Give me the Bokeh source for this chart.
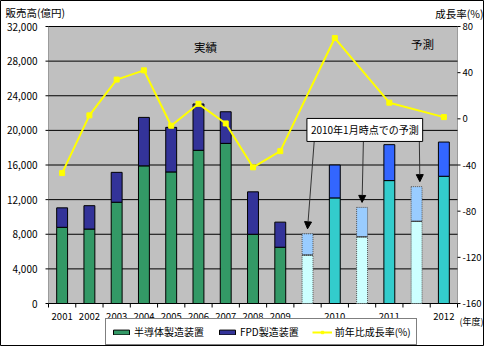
from bokeh.plotting import figure
from bokeh.models import (ColumnDataSource, Range1d, Legend, LegendItem, Label, Arrow,
                          NormalHead, BoxAnnotation)
from bokeh.core.properties import value
from bokeh.embed import file_html
from bokeh.resources import INLINE

# ---------------- data ----------------
slot_labels = ["2001", "2002", "2003", "2004", "2005", "2006", "2007", "2008", "2009",
               "", "2010", "", "2011", "", "2012"]
period = ["実績"] * 9 + ["予測"] * 6
is_forecast = [False] * 9 + [True, False, True, False, True, False]   # 2010年1月時点での予測
semi = [8800, 8600, 11700, 15900, 15200, 17700, 18500, 8000, 6500,
        5600, 12200, 7700, 14200, 9500, 14700]
fpd = [2250, 2700, 3450, 5600, 5150, 5350, 3650, 4900, 2900,
       2450, 3800, 3400, 4150, 4000, 3950]
growth_years = ["2001", "2002", "2003", "2004", "2005", "2006", "2007", "2008", "2009",
                "2010", "2011", "2012"]
growth = [-47, 3, 34, 42, -6, 13, -4, -42, -28, 70, 14, 1.5]
sales_ticks = [0, 4000, 8000, 12000, 16000, 20000, 24000, 28000, 32000]
rate_ticks = [-160, -120, -80, -40, 0, 40, 80]

FONT = "Noto Sans CJK JP"

# ---------------- layout (pixels inside the 484x346 canvas) ----------------
CW, CH = 484, 346
L, R, T, B = 48, 457, 26, 303          # plot area edges
n = len(slot_labels)
sw = (R - L) / n                        # px per slot
ymin, ymax = sales_ticks[0], sales_ticks[-1]
rmin, rmax = rate_ticks[0], rate_ticks[-1]
ypp = (ymax - ymin) / (B - T)           # sales units per px
rpp = (rmax - rmin) / (B - T)           # rate units per px


def xd(lx):      # canvas px -> slot coordinate
    return -0.5 + (lx - L) / sw


def yd(ly):      # canvas px (from top) -> sales coordinate
    return ymin + (B - ly) * ypp


def rd(ly):      # canvas px (from top) -> rate coordinate
    return rmin + (B - ly) * rpp


# ---------------- derived ----------------
xs = list(range(n))
total = [a + b for a, b in zip(semi, fpd)]
lower_col, upper_col = [], []
for per, fc in zip(period, is_forecast):
    if per == "実績":
        lower_col.append("#339966"); upper_col.append("#333399")
    elif fc:
        lower_col.append("#CCFFFF"); upper_col.append("#99CCFF")
    else:
        lower_col.append("#33CCCC"); upper_col.append("#3366FF")


def subset(flag):
    idx = [i for i in xs if is_forecast[i] == flag]
    return ColumnDataSource(dict(
        x=[xs[i] for i in idx], semi=[semi[i] for i in idx], top=[total[i] for i in idx],
        lc=[lower_col[i] for i in idx], uc=[upper_col[i] for i in idx]))


src_main = subset(False)
src_fc = subset(True)
gx = [slot_labels.index(y) for y in growth_years]

# ---------------- figure ----------------
p = figure(width=CW, height=CH, output_backend="svg", toolbar_location=None,
           x_axis_location=None, y_axis_location=None,
           x_range=Range1d(xd(0), xd(CW)), y_range=Range1d(yd(CH), yd(0)),
           min_border=0, min_border_left=0, min_border_right=0,
           min_border_top=0, min_border_bottom=0,
           background_fill_color="white", border_fill_color="white",
           outline_line_color="black")
p.extra_y_ranges = {"rate": Range1d(rd(CH), rd(0))}
p.grid.visible = False

# plot area
p.add_layout(BoxAnnotation(left=-0.5, right=n - 0.5, bottom=ymin, top=ymax,
                           fill_color="#C0C0C0", fill_alpha=1, line_color="black",
                           line_width=1, level="underlay"))
# horizontal grid lines
p.segment(x0=[-0.5] * len(sales_ticks), x1=[n - 0.5] * len(sales_ticks),
          y0=sales_ticks, y1=sales_ticks, line_color="black", line_width=1)

# left axis (sales)
p.segment(x0=[-0.5] * len(sales_ticks), x1=[xd(L - 3)] * len(sales_ticks),
          y0=sales_ticks, y1=sales_ticks, line_color="black", line_width=1)
p.text(x=[xd(L - 11)] * len(sales_ticks), y=sales_ticks,
       text=[f"{t:,}" for t in sales_ticks], text_align="right", text_baseline="middle",
       text_font=value(FONT), text_font_size="10px", text_color="black")

# right axis (growth rate)
p.segment(x0=[n - 0.5] * len(rate_ticks), x1=[xd(R + 3)] * len(rate_ticks),
          y0=rate_ticks, y1=rate_ticks, line_color="black", line_width=1,
          y_range_name="rate")
p.text(x=[xd(R + 5)] * len(rate_ticks), y=rate_ticks, text=[str(t) for t in rate_ticks],
       text_align="left", text_baseline="middle", text_font=value(FONT),
       text_font_size="9.5px", text_color="black", y_range_name="rate")

# x axis
bounds = [i - 0.5 for i in range(n + 1)]
p.segment(x0=bounds, x1=bounds, y0=[ymin] * len(bounds), y1=[yd(B + 4)] * len(bounds),
          line_color="black", line_width=1)
lab_idx = [i for i in xs if slot_labels[i]]
p.text(x=lab_idx, y=[yd(B + 13)] * len(lab_idx), text=[slot_labels[i] for i in lab_idx],
       text_align="center", text_baseline="middle", text_font=value(FONT),
       text_font_size="9.5px", text_color="black")

# bars
W = 0.4
r_semi = p.vbar(x="x", width=W, bottom=ymin, top="semi", fill_color="lc", line_color="black",
                line_width=1, source=src_main)
r_fpd = p.vbar(x="x", width=W, bottom="semi", top="top", fill_color="uc", line_color="black",
               line_width=1, source=src_main)
p.vbar(x="x", width=W, bottom=ymin, top="semi", fill_color="lc", line_color="#555555",
       line_width=1, line_dash="1 1", source=src_fc)
p.vbar(x="x", width=W, bottom="semi", top="top", fill_color="uc", line_color="#555555",
       line_width=1, line_dash="1 1", source=src_fc)
p.segment(x0=[x - W / 2 for x in src_fc.data["x"]], x1=[x + W / 2 for x in src_fc.data["x"]],
          y0=src_fc.data["semi"], y1=src_fc.data["semi"], line_color="#333333", line_width=1)

# growth line
r_line = p.line(gx, growth, y_range_name="rate", line_color="#FFFF00", line_width=2)
r_pts = p.scatter(gx, growth, y_range_name="rate", marker="square", size=5,
                  fill_color="#FFFF00", line_color="#FFFF00")


# ---------------- texts ----------------
def lab(lx, ly, t, size="10px", align="left"):
    p.add_layout(Label(x=xd(lx), y=yd(ly), text=t, text_font=FONT, text_font_size=size,
                       text_align=align, text_baseline="middle", text_color="black"))


lab(5, 12, "販売高(億円)", size="10.5px")
lab(483, 13, "成長率(%)", size="10.5px", align="right")
lab(471, 321, "(年度)", size="9px", align="center")
lab(205, 46, "実績", size="11.5px", align="center")
lab(422, 43, "予測", size="11.5px", align="center")

# callout with arrows to the forecast bars
fc_idx = [i for i in xs if is_forecast[i]]
box_x, box_y, box_bottom = 11.1, 20050, 18950
arrow_start_x = [9.25, 11.05, 13.1]
arrow_end_dx = [0.0, 0.0, 0.12]
for i, sx, dx in zip(fc_idx, arrow_start_x, arrow_end_dx):
    p.add_layout(Arrow(end=NormalHead(size=7, fill_color="black", line_color="black"),
                       x_start=sx, y_start=box_bottom, x_end=i + dx, y_end=total[i] + 5 * ypp,
                       line_color="#333333", line_width=1))
p.add_layout(Label(x=box_x, y=box_y, text="2010年1月時点での予測", text_font=FONT,
                   text_font_size="10px", text_align="center", text_baseline="middle",
                   text_color="black", background_fill_color="white",
                   border_line_color="black", border_line_width=1, padding=4))

# legend
legend = Legend(items=[
    LegendItem(label="半導体製造装置", renderers=[r_semi], index=0),
    LegendItem(label="FPD製造装置", renderers=[r_fpd], index=0),
    LegendItem(label="前年比成長率(%)", renderers=[r_line, r_pts]),
], orientation="horizontal", location=(105, 1),
    label_text_font=FONT, label_text_font_size="10px", label_text_color="black",
    glyph_width=20, glyph_height=6, label_height=12, label_standoff=3, spacing=13,
    padding=5, margin=0, border_line_color="black", border_line_width=1,
    background_fill_color="white", background_fill_alpha=1)
p.add_layout(legend, "center")

open("out.html", "w").write(file_html(p, INLINE))
